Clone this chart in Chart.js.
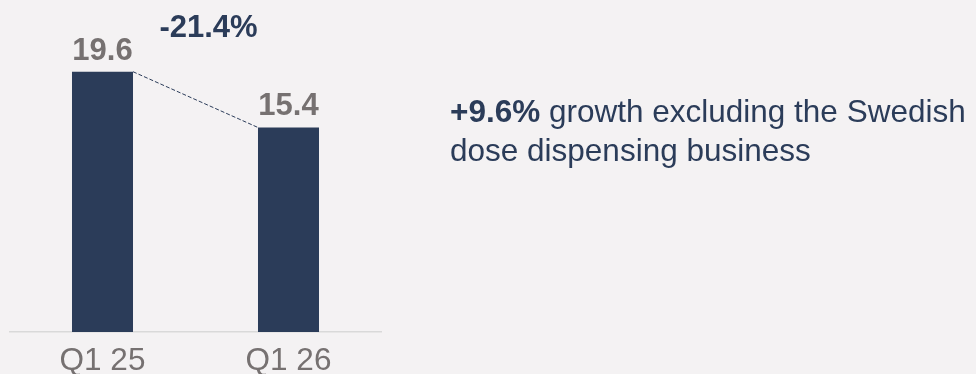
<!DOCTYPE html>
<html>
<head>
<meta charset="utf-8">
<script src="https://cdn.jsdelivr.net/npm/chart.js@4"></script>
<style>
  html, body { margin: 0; padding: 0; background: #f4f2f3; }
  #wrap { position: relative; width: 976px; height: 374px; }
  canvas { display: block; }
</style>
</head>
<body>
<div id="wrap"><canvas id="c" width="976" height="374"></canvas></div>
<script>
const categories = ['Q1 25', 'Q1 26'];
const values = [19.6, 15.4];
const valueLabels = ['19.6', '15.4'];
const changeLabel = '-21.4%';
const noteBold = '+9.6%';
const noteLine1 = ' growth excluding the Swedish';
const noteLine2 = 'dose dispensing business';

const NAVY = '#2b3c59';
const GRAY = '#767171';
const FONT = '"Liberation Sans", Arial, sans-serif';

const annotate = {
  id: 'annotate',
  afterDatasetsDraw(chart) {
    const ctx = chart.ctx;
    const bars = chart.getDatasetMeta(0).data;
    ctx.save();
    ctx.font = 'bold 31px ' + FONT;
    ctx.fillStyle = GRAY;
    ctx.textAlign = 'center';
    ctx.textBaseline = 'alphabetic';
    bars.forEach((b, i) => {
      ctx.fillText(valueLabels[i], b.x, b.y - 12);
    });
    const b0 = bars[0], b1 = bars[1];
    ctx.strokeStyle = NAVY;
    ctx.lineWidth = 1;
    ctx.setLineDash([4, 2]);
    ctx.beginPath();
    ctx.moveTo(b0.x + b0.width / 2, b0.y);
    ctx.lineTo(b1.x - b1.width / 2, b1.y);
    ctx.stroke();
    ctx.setLineDash([]);
    ctx.fillStyle = NAVY;
    ctx.font = 'bold 31px ' + FONT;
    ctx.fillText(changeLabel, (b0.x + b1.x) / 2 + 13, 37);
    ctx.textAlign = 'left';
    const nx = 450;
    ctx.font = 'bold 31.5px ' + FONT;
    ctx.fillText(noteBold, nx, 122);
    const w = ctx.measureText(noteBold).width;
    ctx.font = '31.5px ' + FONT;
    ctx.fillText(noteLine1, nx + w, 122);
    ctx.fillText(noteLine2, nx, 161);
    ctx.restore();
  }
};

new Chart(document.getElementById('c'), {
  type: 'bar',
  data: {
    labels: categories,
    datasets: [{
      data: values,
      backgroundColor: NAVY,
      borderWidth: 0,
      barPercentage: 0.328,
      categoryPercentage: 1
    }]
  },
  options: {
    responsive: false,
    animation: false,
    layout: { padding: { left: 9.5, right: 594.5, top: 0, bottom: 0 } },
    plugins: { legend: { display: false }, tooltip: { enabled: false } },
    scales: {
      x: {
        grid: { display: false, drawTicks: false },
        border: { display: true, color: '#d9d9d9', width: 1.5 },
        ticks: { color: GRAY, font: { family: FONT, size: 31.5 }, padding: 10 },
        afterFit(scale) { scale.height = 42; }
      },
      y: {
        display: false,
        min: 0,
        max: 25
      }
    }
  },
  plugins: [annotate]
});
</script>
</body>
</html>
